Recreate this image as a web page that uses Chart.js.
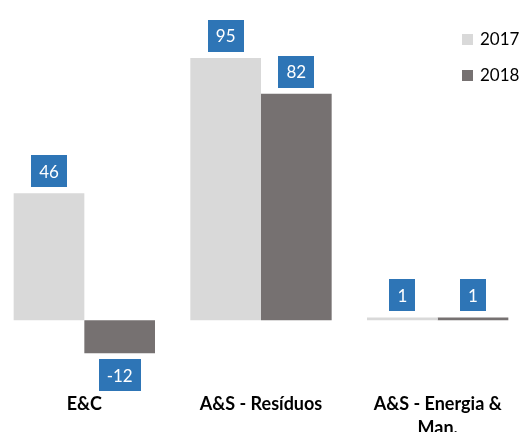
<!DOCTYPE html>
<html>
<head>
<meta charset="utf-8">
<script src="https://cdn.jsdelivr.net/npm/chart.js@4/dist/chart.umd.min.js"></script>
<style>
  html, body { margin: 0; padding: 0; background: #fff; overflow: hidden; width: 524px; height: 432px; }
  #wrap { position: absolute; left: -4px; top: 0; width: 530px; height: 432px; }
</style>
</head>
<body>
<div id="wrap"><canvas id="chart"></canvas></div>
<script>
// data
const categories = ["E&C", "A&S - Resíduos", ["A&S - Energia &", "Man."]];
const seriesNames = ["2017", "2018"];
const values2017 = [46, 95, 1];
const values2018 = [-12, 82, 1];
const seriesColors = ["#D9D9D9", "#767171"];
const labelBlue = "#2E75B6";

// blue value boxes over / under each bar
const valueBoxes = {
  id: "valueBoxes",
  afterDatasetsDraw(chart) {
    const ctx = chart.ctx;
    ctx.save();
    ctx.font = "17px Lato";
    ctx.textAlign = "center";
    ctx.textBaseline = "middle";
    chart.data.datasets.forEach((ds, i) => {
      chart.getDatasetMeta(i).data.forEach((bar, j) => {
        const v = ds.data[j];
        const txt = String(v);
        const w = ctx.measureText(txt).width + 16;
        const h = 32;
        let top;
        if (v >= 0) top = bar.y - 6 - h;
        else top = bar.y + 6;
        ctx.fillStyle = labelBlue;
        ctx.fillRect(Math.round(bar.x - w / 2), Math.round(top), Math.round(w), h);
        ctx.fillStyle = "#fff";
        ctx.fillText(txt, bar.x, top + h / 2 + 1);
      });
    });
    ctx.restore();
  }
};

// legend in the top right corner, inside the plot (canvas is shifted 4px left)
const cornerLegend = {
  id: "cornerLegend",
  afterDraw(chart) {
    const ctx = chart.ctx;
    ctx.save();
    ctx.font = "17px Lato";
    ctx.textBaseline = "middle";
    ctx.textAlign = "left";
    chart.data.datasets.forEach((ds, i) => {
      const cy = 39 + i * 36;
      ctx.fillStyle = ds.backgroundColor;
      ctx.fillRect(466, cy - 5, 11, 11);
      ctx.fillStyle = "#000";
      ctx.fillText(ds.label, 484, cy + 1);
    });
    ctx.restore();
  }
};

new Chart(document.getElementById("chart"), {
  type: "bar",
  data: {
    labels: categories,
    datasets: [
      { label: seriesNames[0], data: values2017, backgroundColor: seriesColors[0] },
      { label: seriesNames[1], data: values2018, backgroundColor: seriesColors[1] }
    ]
  },
  options: {
    responsive: true,
    maintainAspectRatio: false,
    animation: false,
    layout: { padding: 0 },
    categoryPercentage: 0.8,
    barPercentage: 1,
    plugins: {
      legend: { display: false },
      tooltip: { enabled: false }
    },
    scales: {
      x: {
        grid: { display: false, drawTicks: false },
        border: { display: false },
        ticks: {
          color: "#000",
          padding: 0,
          maxRotation: 0,
          autoSkip: false,
          font: { family: "Lato", size: 18, weight: "bold", lineHeight: 1.33 }
        },
        afterFit(scale) { scale.height = 40; }
      },
      y: {
        display: false,
        min: -26,
        max: 116
      }
    }
  },
  plugins: [valueBoxes, cornerLegend]
});
</script>
</body>
</html>
